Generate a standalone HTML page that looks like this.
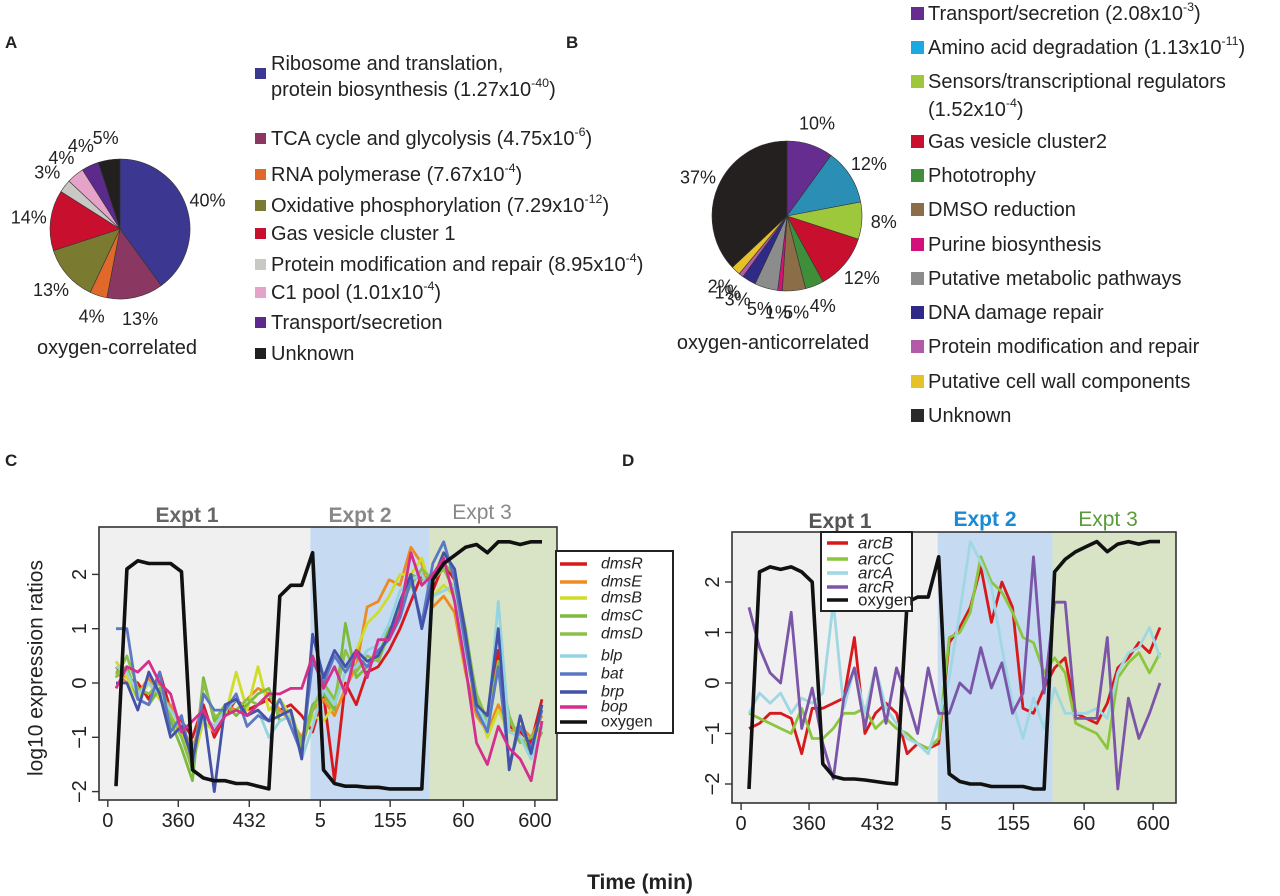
<!DOCTYPE html>
<html><head><meta charset="utf-8">
<style>
html,body{margin:0;padding:0;background:#fff;}
svg{display:block;font-family:"Liberation Sans",Arial,sans-serif;}
</style></head>
<body>
<svg id="fig" width="1280" height="896" viewBox="0 0 1280 896">
  <text x="5" y="48" font-size="17" font-weight="bold" fill="#222">A</text>
  <text x="566" y="48" font-size="17" font-weight="bold" fill="#222">B</text>
  <text x="5" y="466" font-size="17" font-weight="bold" fill="#222">C</text>
  <text x="622" y="466" font-size="17" font-weight="bold" fill="#222">D</text>

  <g id="pieA"></g>
  <text x="117" y="354" font-size="20" fill="#222" text-anchor="middle">oxygen-correlated</text>
  <g id="legA"></g>

  <g id="pieB"></g>
  <text x="773" y="349" font-size="20" fill="#222" text-anchor="middle">oxygen-anticorrelated</text>
  <g id="legB"></g>

  <g id="chartC"></g>
  <g id="chartD"></g>

  <text transform="translate(36,668) rotate(-90)" font-size="21" fill="#222" text-anchor="middle" dominant-baseline="central">log10 expression ratios</text>
  <text x="640" y="889" font-size="21" font-weight="bold" fill="#222" text-anchor="middle">Time (min)</text>
</svg>
<script>
// ---------- Pie data ----------
const pieAValues = [40,13,4,13,14,3,4,4,5];
const pieAColors = ["#3c3790","#8a3761","#e0692a","#7a7a30","#c8102e","#c9c8c4","#e6a3c9","#5c2a8c","#221f1f"];
const pieALegend = ["Ribosome and translation,|protein biosynthesis (1.27x10^-40)","TCA cycle and glycolysis (4.75x10^-6)","RNA polymerase (7.67x10^-4)","Oxidative phosphorylation (7.29x10^-12)","Gas vesicle cluster 1","Protein modification and repair (8.95x10^-4)","C1 pool (1.01x10^-4)","Transport/secretion","Unknown"];
const pieBValues = [10,12,8,12,4,5,1,5,3,1,2,37];
const pieBColors = ["#662d91","#2b8fb5","#9dc83c","#c8102e","#3f8f3a","#8b6d47","#d4107a","#8c8c8c","#2e2a85","#b35aa8","#e6c229","#24201f"];
const pieBLegend = ["Transport/secretion (2.08x10^-3)","Amino acid degradation (1.13x10^-11)","Sensors/transcriptional regulators|(1.52x10^-4)","Gas vesicle cluster2","Phototrophy","DMSO reduction","Purine biosynthesis","Putative metabolic pathways","DNA damage repair","Protein modification and repair","Putative cell wall components","Unknown"];
const legendBColors = ["#662d91","#1ba9e1","#9dc83c","#c8102e","#3f8f3a","#8b6d47","#d4107a","#8c8c8c","#2e2a85","#b35aa8","#e6c229","#2a2a2a"];

// ---------- Chart C data ----------
const cTickLabels = ["0","360","432","5","155","60","600"];
const cTickIdx = [-0.75,5.7,12.2,18.7,25.1,31.8,38.35];
const cYTicks = [2,1,0,-1,-2];
const cSeriesNames = ["dmsR","dmsE","dmsB","dmsC","dmsD","blp","bat","brp","bop","oxygen"];
const cColors = ["#d7191c","#ee8a22","#cfdc2a","#7cba3e","#8cc04a","#94d4e0","#5b78c4","#4452a8","#d42f8c","#111111"];
const dmsR = [0.3,0.1,0.0,-0.3,0.2,-0.5,-0.7,-1.0,-0.4,-1.0,-0.6,-0.3,-0.5,-0.4,-0.3,-0.5,-0.4,-0.6,-0.9,-0.2,-1.8,0.0,-0.4,0.2,0.3,0.6,1.0,1.5,2.0,1.7,2.2,1.9,0.8,-0.5,-0.7,0.6,-0.8,-0.9,-1.1,-0.3];
const dmsE = [0.2,0.0,-0.2,0.1,-0.3,-0.4,-0.8,-1.2,-0.6,-0.8,-0.4,-0.5,-0.3,-0.1,-0.2,-0.5,-0.7,-1.0,-0.5,-0.3,-0.6,-0.1,0.3,1.4,1.5,1.9,1.8,2.5,2.2,1.4,1.6,1.3,0.2,-0.6,-0.9,-0.4,-0.9,-0.8,-1.0,-0.6];
const dmsB = [0.4,0.1,-0.3,0.0,-0.3,-0.6,-0.9,-1.5,-0.7,-0.9,-0.6,0.2,-0.5,0.3,-0.5,-0.3,-0.6,-1.1,-0.6,-0.7,-0.4,0.2,0.6,1.1,1.3,1.6,2.0,2.0,2.3,1.6,1.8,1.6,0.6,-0.4,-1.0,-0.5,-0.9,-1.0,-1.2,-0.8];
const dmsC = [0.2,0.3,-0.3,-0.4,-0.1,-0.7,-1.2,-1.8,0.1,-0.7,-0.4,-0.6,-0.4,-0.2,-0.1,-0.7,-0.6,-1.1,-0.4,-0.2,-0.5,1.1,0.1,0.3,0.5,1.0,1.2,2.0,1.9,2.0,2.2,2.0,1.0,-0.3,-0.8,0.3,-0.7,-1.0,-1.3,-0.9];
const dmsD = [0.1,0.5,-0.1,-0.2,0.0,-0.6,-1.0,-1.6,0.0,-0.6,-0.6,-0.5,-0.3,-0.4,-0.2,-0.6,-0.5,-1.2,-0.5,0.0,-0.3,0.6,0.2,0.5,0.4,0.9,1.4,1.8,2.1,1.9,2.1,1.7,0.9,-0.2,-0.7,0.4,-0.6,-1.1,-1.0,-0.8];
const blp = [0.3,0.2,-0.2,0.0,-0.2,-0.5,-0.8,-1.3,-0.6,-0.8,-0.5,-0.3,-0.6,-0.5,-1.0,-0.7,-0.6,-1.4,-0.8,-0.1,-0.4,0.2,0.3,0.6,0.7,1.1,1.7,1.9,2.0,1.6,1.7,1.8,0.6,-0.4,-0.8,1.5,-0.9,-1.0,-1.4,-0.8];
const bat = [1.0,1.0,-0.3,-0.4,0.2,-0.9,-0.6,-1.5,-0.2,-0.5,-0.5,-0.2,-0.8,-0.6,-0.7,-0.3,-0.8,-1.3,0.4,0.0,0.5,0.2,0.5,0.3,0.6,0.8,1.2,1.9,1.1,2.2,2.6,1.9,0.7,-0.5,-0.9,0.3,-1.5,-0.8,-1.2,-0.5];
const brp = [0.0,0.0,-0.5,0.2,-0.2,-1.0,-0.8,-1.4,-0.5,-2.0,-0.4,-0.3,-0.6,-0.5,-0.7,-0.6,-0.5,-1.4,0.9,0.1,0.6,0.3,0.6,0.4,0.5,0.9,1.5,2.0,1.0,1.9,2.4,2.1,0.9,-0.4,-0.6,1.0,-1.6,-0.6,-1.3,-0.4];
const bop = [-0.1,0.3,0.2,0.4,0.0,-0.2,-0.9,-0.7,-0.5,-0.9,-0.6,-0.5,-0.6,-0.4,-0.2,-0.2,-0.1,-0.1,0.5,-0.1,0.3,-0.2,0.6,0.1,0.8,0.8,1.3,2.4,1.8,2.0,2.3,1.5,0.3,-1.1,-1.5,-0.8,-1.2,-1.4,-1.8,-0.7];
const oxygenC = [-1.9,2.1,2.25,2.2,2.2,2.2,2.05,-1.6,-1.75,-1.8,-1.8,-1.85,-1.85,-1.9,-1.95,1.6,1.8,1.8,2.4,-1.6,-1.85,-1.9,-1.9,-1.92,-1.92,-1.95,-1.95,-1.95,-1.95,1.9,2.2,2.35,2.5,2.55,2.4,2.6,2.6,2.55,2.6,2.6];
const cRegions = [17.8, 28.7];

// ---------- Chart D data ----------
const dSeriesNames = ["arcB","arcC","arcA","arcR","oxygen"];
const dColors = ["#d7191c","#8cc63f","#9fd7e3","#7b55a8","#111111"];
const arcB = [-0.9,-0.8,-0.6,-0.6,-0.7,-1.4,-0.5,-0.5,-0.4,-0.3,0.9,-1.0,-0.6,-0.4,-0.6,-1.4,-1.2,-1.3,-1.2,0.8,1.1,1.5,2.3,1.2,2.0,1.5,-0.5,-0.6,-0.1,0.3,0.5,-0.6,-0.7,-0.8,-0.4,0.3,0.5,0.8,0.6,1.1];
const arcC = [-0.6,-0.7,-0.8,-0.9,-1.0,-0.5,-1.1,-1.1,-0.9,-0.6,-0.6,-0.5,-0.9,-0.7,-0.9,-1.0,-1.2,-1.3,-1.1,0.9,1.0,1.4,2.5,2.0,1.8,1.4,0.9,0.8,0.2,0.5,0.2,-0.8,-0.9,-1.0,-1.3,0.1,0.4,0.6,0.2,0.6];
const arcA = [-0.6,-0.2,-0.4,-0.2,-0.6,-0.3,-0.4,-0.2,1.6,-0.5,0.3,-0.6,0.3,-0.5,-0.8,-1.1,-1.2,-1.4,-0.7,0.1,1.4,2.8,2.4,1.9,0.7,-0.4,-1.1,-0.3,-0.9,-0.1,-0.6,-0.6,-0.6,-0.5,-0.7,0.2,0.6,0.7,1.1,0.5];
const arcR = [1.5,0.7,0.2,0.0,1.4,-0.9,-0.1,-1.2,-1.9,-0.3,0.3,-0.9,0.3,-0.8,0.3,-0.3,-1.0,0.3,-0.6,-0.6,0.0,-0.2,0.7,-0.1,0.4,-0.6,-0.2,2.5,-0.2,1.6,1.6,-0.7,-0.7,-0.7,0.9,-2.1,-0.3,-1.1,-0.6,0.0];
const oxygenD = [-2.1,2.2,2.3,2.25,2.3,2.2,2.0,-1.6,-1.85,-1.9,-1.9,-1.92,-1.95,-1.98,-2.0,1.6,1.7,1.7,2.5,-1.8,-1.95,-2.0,-2.0,-2.05,-2.05,-2.05,-2.05,-2.1,-2.1,2.2,2.45,2.6,2.7,2.8,2.6,2.75,2.8,2.75,2.8,2.8];
const dRegions = [17.9, 28.8];

const NS = "http://www.w3.org/2000/svg";
function mk(tag, attrs, parent){
  const e = document.createElementNS(NS, tag);
  for (const k in attrs) e.setAttribute(k, attrs[k]);
  parent.appendChild(e);
  return e;
}
function richText(parent, x, y, str, size){
  const t = mk("text", {x:x, y:y, "font-size":size, fill:"#222", "dominant-baseline":"central"}, parent);
  const parts = str.split("^");
  const s1 = document.createElementNS(NS,"tspan"); s1.textContent = parts[0]; t.appendChild(s1);
  if (parts.length > 1){
    const m = parts[1].match(/^(-?\d+)(.*)$/);
    const s2 = document.createElementNS(NS,"tspan"); s2.setAttribute("dy","-7"); s2.setAttribute("font-size", size*0.62); s2.textContent = m[1]; t.appendChild(s2);
    const s3 = document.createElementNS(NS,"tspan"); s3.setAttribute("dy","7"); s3.textContent = m[2]; t.appendChild(s3);
  }
  return t;
}

// ---------- Pies ----------
function drawPie(g, values, colors, cx, cy, r, prefix){
  const total = values.reduce((a,b)=>a+b,0);
  let acc = 0;
  values.forEach((v,i)=>{
    const a0 = acc/total*2*Math.PI; acc += v; const a1 = acc/total*2*Math.PI;
    const x0 = cx + r*Math.sin(a0), y0 = cy - r*Math.cos(a0);
    const x1 = cx + r*Math.sin(a1), y1 = cy - r*Math.cos(a1);
    const large = (a1-a0) > Math.PI ? 1 : 0;
    const p = mk("path", {d:`M${cx},${cy} L${x0},${y0} A${r},${r} 0 ${large} 1 ${x1},${y1} Z`, fill:colors[i], stroke:"#333", "stroke-width":0.6}, g);
    
    
    const am = (a0+a1)/2, lr = r + 22;
    const t = mk("text", {x:cx+lr*Math.sin(am), y:cy-lr*Math.cos(am), "font-size":18, fill:"#222", "text-anchor":"middle", "dominant-baseline":"central"}, g);
    t.textContent = v + "%";
    
    
  });
}
drawPie(document.getElementById("pieA"), pieAValues, pieAColors, 120, 229, 70, "pie-a");
drawPie(document.getElementById("pieB"), pieBValues, pieBColors, 787, 216, 75, "pie-b");

// legends
(function(){
  const g = document.getElementById("legA");
  const ys = [64,139,175,206,234,265,293,323,354];
  pieALegend.forEach((lab,i)=>{
    const lines = lab.split("|");
    const sy = i===0 ? 74 : ys[i];
    const sq = mk("rect", {x:255, y:sy-6, width:11, height:11, fill:pieAColors[i]}, g);
    
    
    lines.forEach((ln,j)=>{
      const t = richText(g, 271, ys[i] + j*26, ln, 20);
      
      
    });
  });
  const gb = document.getElementById("legB");
  const yb = [14,48,82,142,176,210,245,279,313,347,382,416];
  pieBLegend.forEach((lab,i)=>{
    const lines = lab.split("|");
    const sq = mk("rect", {x:911, y:yb[i]-7, width:13, height:13, fill:legendBColors[i]}, gb);
    
    
    lines.forEach((ln,j)=>{
      const t = richText(gb, 928, yb[i] + j*28, ln, 20);
      
      
    });
  });
})();

// ---------- Line charts ----------
function drawLines(cfg){
  const g = document.getElementById(cfg.id);
  const n = cfg.series[0].length;
  const xs = i => cfg.x0 + (cfg.x1 - cfg.x0) * i / (n-1);
  const ys = v => cfg.yZero - v * cfg.yUnit;
  const bands = [[cfg.left, xs(cfg.regions[0]), "#f0f0f0"],[xs(cfg.regions[0]), xs(cfg.regions[1]), "#c6dbf2"],[xs(cfg.regions[1]), cfg.right, "#d9e4c6"]];
  bands.forEach((b,i)=>{
    const r = mk("rect", {x:b[0], y:cfg.top, width:b[1]-b[0], height:cfg.bottom-cfg.top, fill:b[2]}, g);
    
    
  });
  const clip = mk("clipPath", {id:cfg.id+"clip"}, g);
  mk("rect", {x:cfg.left, y:cfg.top, width:cfg.right-cfg.left, height:cfg.bottom-cfg.top}, clip);
  const lg = mk("g", {"clip-path":`url(#${cfg.id}clip)`}, g);
  cfg.series.forEach((s,k)=>{
    const d = s.map((v,i)=>(i?"L":"M")+xs(i).toFixed(1)+","+ys(v).toFixed(1)).join(" ");
    const p = mk("path", {d:d, fill:"none", stroke:cfg.colors[k], "stroke-width": cfg.names[k]==="oxygen"?3.6:2.8, "stroke-linejoin":"round"}, lg);
    
    
  });
  const box = mk("rect", {x:cfg.left, y:cfg.top, width:cfg.right-cfg.left, height:cfg.bottom-cfg.top, fill:"none", stroke:"#333", "stroke-width":1.6}, g);
  
  
  cfg.yTicks.forEach(v=>{
    const y = ys(v);
    mk("line", {x1:cfg.left-7, x2:cfg.left, y1:y, y2:y, stroke:"#333", "stroke-width":1.4}, g);
    const t = mk("text", {transform:`translate(${cfg.left-19},${y}) rotate(-90)`, "font-size":20, fill:"#222", "text-anchor":"middle", "dominant-baseline":"central"}, g);
    t.textContent = v < 0 ? "\u2212" + Math.abs(v) : String(v);
    
    
  });
  cfg.xTickIdx.forEach((ix,i)=>{
    const x = xs(ix);
    mk("line", {x1:x, x2:x, y1:cfg.bottom, y2:cfg.bottom+7, stroke:"#333", "stroke-width":1.4}, g);
    const t = mk("text", {x:x, y:cfg.bottom+21, "font-size":20, fill:"#222", "text-anchor":"middle", "dominant-baseline":"central"}, g);
    t.textContent = cfg.xTickLabels[i];
    
    
  });
  cfg.titles.forEach(tt=>{
    const t = mk("text", {x:tt[0], y:tt[1], "font-size":21, "font-weight":tt[3], fill:tt[2], "text-anchor":"middle"}, g);
    t.textContent = tt[4];
    
    
  });
  const L = cfg.legend;
  const lb = mk("rect", {x:L.x, y:L.y, width:L.w, height:L.h, fill:"#fff", stroke:"#222", "stroke-width":2}, g);
  
  
  cfg.names.forEach((nm,k)=>{
    const y = L.ys[k];
    mk("line", {x1:L.lx0, x2:L.lx1, y1:y, y2:y, stroke:cfg.colors[k], "stroke-width":3.5}, g);
    const t = mk("text", {x:L.tx, y:y, "font-size":L.fs, fill:"#222", "font-style": nm==="oxygen"?"normal":"italic", "dominant-baseline":"central"}, g);
    t.textContent = nm;
    
    
  });
}

drawLines({id:"chartC", left:99, right:557, top:527, bottom:800, x0:116, x1:542, yZero:683, yUnit:54.3,
  regions:cRegions, series:[dmsR,dmsE,dmsB,dmsC,dmsD,blp,bat,brp,bop,oxygenC], names:cSeriesNames, colors:cColors,
  yTicks:cYTicks, xTickIdx:cTickIdx, xTickLabels:cTickLabels,
  titles:[[187,522,"#666","bold","Expt 1"],[360,522,"#888","bold","Expt 2"],[482,519,"#888","normal","Expt 3"]],
  legend:{x:556,y:551,w:117,h:182,lx0:560,lx1:587,tx:601,fs:16,ys:[564,582,598,616,634,656,674,692,707,722]}});

drawLines({id:"chartD", left:732, right:1176, top:532, bottom:803, x0:749, x1:1160, yZero:683, yUnit:50.5,
  regions:dRegions, series:[arcB,arcC,arcA,arcR,oxygenD], names:dSeriesNames, colors:dColors,
  yTicks:cYTicks, xTickIdx:cTickIdx, xTickLabels:cTickLabels,
  titles:[[840,528,"#555","bold","Expt 1"],[985,526,"#1a8ad4","bold","Expt 2"],[1108,526,"#5a9a3a","normal","Expt 3"]],
  legend:{x:821,y:532,w:91,h:79,lx0:827,lx1:848,tx:858,fs:17,ys:[543,559,573,587,600]}});
</script>
</body></html>
